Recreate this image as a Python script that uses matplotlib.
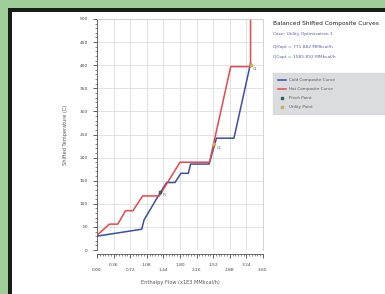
import matplotlib
matplotlib.use('Agg')
import matplotlib.pyplot as plt
from matplotlib.patches import Rectangle
from matplotlib.ticker import MultipleLocator

# ── Data ───────────────────────────────────────────────────────────────────
cold_h = [0.00, 0.97, 1.02, 1.37, 1.51, 1.69, 1.82, 1.98, 2.03, 2.43, 2.59, 2.97, 3.33]
cold_t = [30, 45, 65, 124, 146, 146, 166, 166, 186, 186, 242, 242, 404]
hot_h = [0.00, 0.27, 0.45, 0.62, 0.78, 0.99, 1.35, 1.80, 2.44, 2.90, 3.33, 3.33]
hot_t = [32, 56, 56, 85, 85, 117, 117, 190, 190, 397, 397, 500]
pinch_h, pinch_t = [1.37], [125]
util_h = [2.54, 3.33]
util_t = [229, 400]
x_ticks = [0.00, 0.36, 0.72, 1.08, 1.44, 1.80, 2.16, 2.52, 2.88, 3.24, 3.60]
y_ticks = [0, 50, 100, 150, 200, 250, 300, 350, 400, 450, 500]

BLUE = '#3b4f9e'
RED = '#e8474a'
GREEN_BG = '#9fcf98'

fig = plt.figure(figsize=(3.85, 2.94), dpi=100)
fig.patch.set_facecolor(GREEN_BG)
# dark monitor frame and white screen
fig.patches.append(Rectangle((8 / 385, 0), 1, 1 - 8 / 294, transform=fig.transFigure,
                             facecolor='#1c1c1c', edgecolor='none', zorder=-10))
fig.patches.append(Rectangle((12 / 385, 0), 1, 1 - 12 / 294, transform=fig.transFigure,
                             facecolor='white', edgecolor='none', zorder=-9))

ax = fig.add_axes([97 / 385, 1 - 250 / 294, 166 / 385, 231 / 294])
ax.plot(cold_h, cold_t, color=BLUE, lw=1.1, label='Cold Composite Curve')
ax.plot(hot_h, hot_t, color=RED, lw=1.1, label='Hot Composite Curve')
ax.plot(pinch_h, pinch_t, 's', color='#2e5f5a', ms=2.0, label='Pinch Point')
ax.plot(util_h, util_t, 's', color='#c9b24a', ms=2.0, label='Utility Point')
ax.text(pinch_h[0] + 0.05, pinch_t[0] - 8, 'P1', fontsize=2.5, color='#777777')
for h, t, s in zip(util_h, util_t, ['U2', 'U1']):
    ax.text(h + 0.05, t - 10, s, fontsize=2.5, color='#777777')

ax.set_xlim(0, 3.6)
ax.set_ylim(0, 500)
ax.set_xticks(x_ticks)
ax.set_xticklabels([f'\n{v:.2f}' if i % 2 == 0 else f'{v:.2f}' for i, v in enumerate(x_ticks)])
ax.set_yticks(y_ticks)
ax.xaxis.set_minor_locator(MultipleLocator(0.06))
ax.yaxis.set_minor_locator(MultipleLocator(10))
ax.tick_params(labelsize=3.2, colors='#444444', length=3, width=0.6, direction='out')
ax.tick_params(which='minor', length=1.5, width=0.5, colors='#555555')
ax.grid(True, color='#dddddd', lw=0.6)
ax.spines['bottom'].set_position(('outward', 3))
ax.spines['left'].set_color('#555555')
ax.spines['bottom'].set_color('#555555')
ax.spines['top'].set_color('#cccccc')
ax.spines['right'].set_color('#cccccc')
for s in ax.spines.values():
    s.set_linewidth(0.6)
ax.set_xlabel('Enthalpy Flow (x1E3 MMkcal/h)', fontsize=3.6, color='#555555', labelpad=6)
ax.set_ylabel('Shifted Temperature (C)', fontsize=3.6, color='#555555', labelpad=8)

fig.text(273 / 385, 1 - 24 / 294, 'Balanced Shifted Composite Curves', fontsize=4.2,
         color='#222222', va='center')
fig.text(273 / 385, 1 - 34 / 294, 'Case: Utility Optimization 1', fontsize=3.2,
         color='#5560b0', va='center')
fig.text(273 / 385, 1 - 47 / 294, 'QHopt = 771.882 MMkcal/h', fontsize=3.2,
         color='#5560b0', va='center')
fig.text(273 / 385, 1 - 57 / 294, 'QCopt = 1585.892 MMkcal/h', fontsize=3.2,
         color='#5560b0', va='center')

leg = fig.legend(loc='upper left', bbox_to_anchor=(273 / 385, 1 - 116 / 294, 112 / 385, 43 / 294),
                 mode='expand', fontsize=3.0, frameon=True, fancybox=False, borderpad=1.2,
                 handlelength=1.8, labelspacing=1.2, markerscale=0.8, borderaxespad=0)
leg.get_frame().set_facecolor('#d2d4d8')
leg.get_frame().set_edgecolor('#d2d4d8')
for t in leg.get_texts():
    t.set_color('#555555')

fig.savefig('out.png', dpi=100)
